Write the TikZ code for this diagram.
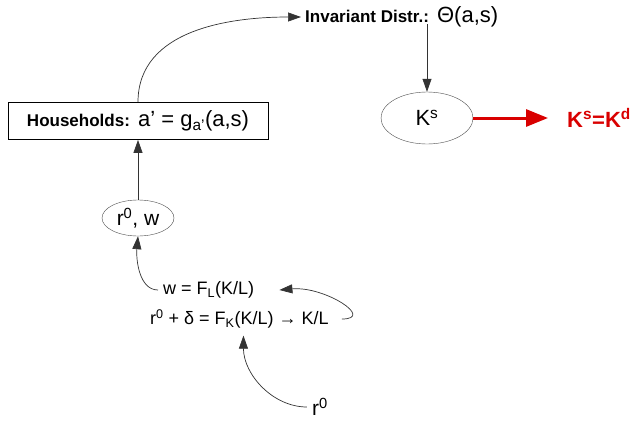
\documentclass[tikz,border=0pt]{standalone}
\usepackage{fontspec}
\setmainfont{Liberation Sans}
\usetikzlibrary{arrows.meta, shapes.geometric}
\colorlet{myred}{red!85!black}
\newcommand{\fsz}[1]{\fontsize{#1}{#1}\selectfont}
\tikzset{
  >={Triangle[length=13pt, width=9pt]},
  base text/.style={inner sep=1pt, font=\fsz{22}},
  small text/.style={inner sep=1pt, font=\fsz{18}},
  node box/.style={base text, draw, thick, minimum width=260pt, minimum height=37pt},
  node ell/.style={base text, ellipse, draw=black!70, thin, inner sep=0pt},
  flow edge/.style={->, draw=black!80, line width=0.7pt},
  red edge/.style={-{Triangle[length=22pt, width=17pt]}, myred, line width=3pt}
}

\begin{document}
\begin{tikzpicture}[x=1pt, y=-1pt]
  \useasboundingbox (0,0) rectangle (636,420);

  % =========================================================
  % UPPER PART: HOUSEHOLDS -> DISTRIBUTION -> CAPITAL SUPPLY
  % =========================================================

  \node[node box] (HH) at (138,121) {\textbf{\fsz{17}Households:} a' = g\textsubscript{a'}(a,s)};
  \node[base text, anchor=west] (Inv) at (304,17) {\textbf{\fsz{17}Invariant Distr.:} Θ(a,s)};
  \node[node ell, minimum width=92pt, minimum height=52pt] (Ks) at (427,118) {K\textsuperscript{s}};
  \node[base text, anchor=west, text=myred, font=\fsz{22}\bfseries] (Eq) at (566,118) {K\textsuperscript{s}=K\textsuperscript{d}};

  \draw[flow edge, shorten >=3pt] (HH.north) to[out=90, in=180] (Inv.west);
  \draw[flow edge, shorten <=-4pt] (Ks.north |- Inv.south) -- (Ks.north);
  \draw[red edge, shorten >=18pt] (Ks.east) -- (Eq.west);

  % =========================================================
  % LOWER PART: PRICES FROM FIRM CONDITIONS
  % =========================================================

  \node[node ell, minimum width=72pt, minimum height=36pt, font=\fsz{21}] (Rw) at (138,218) {r\textsuperscript{0}, w};
  \node[small text, anchor=west] (Wage) at (162,290) {w = F\textsubscript{L}(K/L)};
  \node[small text, anchor=west] (Rate) at (149,319) {r\textsuperscript{0} + δ = F\textsubscript{K}(K/L) → K/L};
  \node[base text, font=\fsz{21}] (R0) at (320,407) {r\textsuperscript{0}};

  \draw[flow edge] (Rw.north) -- (HH.south);
  \draw[flow edge, shorten <=4pt] (Wage.west) to[out=180, in=-95] (Rw.south);
  \draw[flow edge, shorten <=12pt] (Rate.east) to[out=0, in=5, looseness=2] ([xshift=24pt]Wage.east);
  \draw[flow edge, shorten <=4pt] (R0.west) to[out=180, in=-90] ([xshift=4pt, yshift=-6pt]Rate.south);

\end{tikzpicture}
\end{document}
